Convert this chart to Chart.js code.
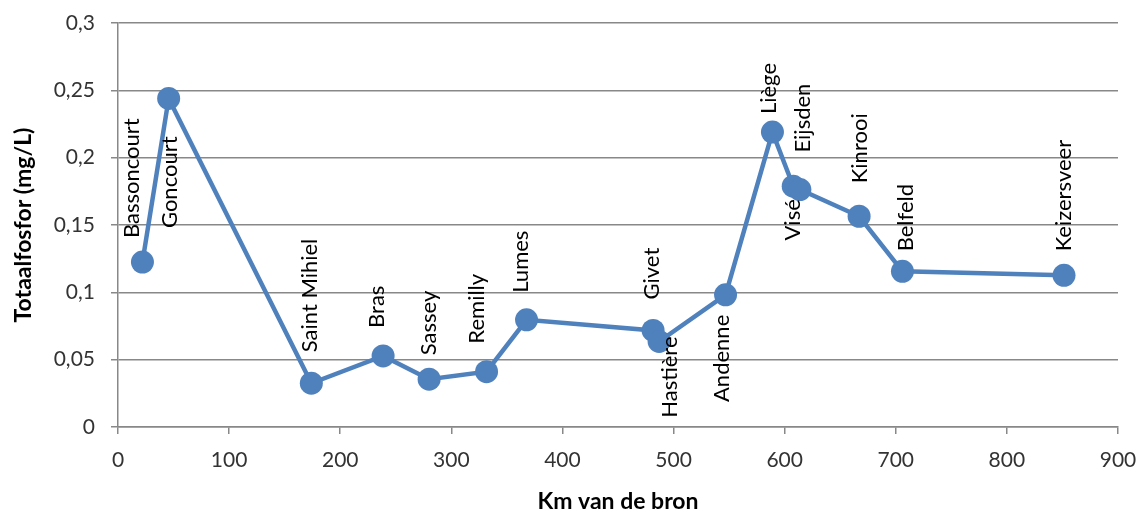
<!DOCTYPE html>
<html lang="nl">
<head>
    <meta charset="UTF-8">
    <title>Totaalfosfor Maas</title>
    <style>
        html, body { margin: 0; padding: 0; background: #fff; }
        #chartContainer { position: relative; width: 1140px; height: 515px; }
    </style>
</head>
<body>
    <div id="chartContainer">
        <canvas id="fosforChart"></canvas>
    </div>

    <script src="https://cdn.jsdelivr.net/npm/chart.js"></script>
    <script>
        // Meetpunten langs de Maas
        const stations = ['Bassoncourt', 'Goncourt', 'Saint Mihiel', 'Bras', 'Sassey', 'Remilly', 'Lumes',
            'Givet', 'Hastière', 'Andenne', 'Liège', 'Visé', 'Eijsden', 'Kinrooi', 'Belfeld', 'Keizersveer'];
        const kmFromSource = [22, 45.6, 174, 238.6, 280, 331.7, 367.7, 481.6, 487, 546.8, 589, 607.7, 613.7, 667, 706, 851.4];
        const totalP = [0.1225, 0.244, 0.0325, 0.0528, 0.0355, 0.0411, 0.0796, 0.0717, 0.0635, 0.0982,
            0.219, 0.1788, 0.1763, 0.1565, 0.1156, 0.1126];

        // label placement: 'up' = above the point, 'down' = below it
        const labelSide = ['up', 'down', 'up', 'up', 'up', 'up', 'up', 'up', 'down', 'down', 'up', 'down', 'up', 'up', 'up', 'up'];
        // fine tuning per label: [dx, gap]
        const labelNudge = {
            'Bassoncourt': [-11, 24], 'Goncourt': [1, 38], 'Saint Mihiel': [-1, 31], 'Bras': [-6, 28],
            'Sassey': [0, 24], 'Remilly': [-10, 28], 'Lumes': [-6, 27], 'Givet': [-1, 31],
            'Hastière': [11, -5], 'Andenne': [-4, 20], 'Liège': [-4, 18], 'Visé': [0, 13],
            'Eijsden': [3, 37], 'Kinrooi': [1, 33], 'Belfeld': [3, 20], 'Keizersveer': [0, 24]
        };

        const blue = '#4F81BD';
        const fontFamily = 'Lato, "Open Sans", sans-serif';

        const points = kmFromSource.map((km, i) => ({ x: km, y: totalP[i] }));

        const pointLabels = {
            id: 'pointLabels',
            afterDatasetsDraw(chart) {
                const ctx = chart.ctx;
                const meta = chart.getDatasetMeta(0);
                ctx.save();
                ctx.font = '22px ' + fontFamily;
                ctx.fillStyle = '#000';
                ctx.textBaseline = 'middle';
                meta.data.forEach((pt, i) => {
                    const name = stations[i];
                    const [dx, gap] = labelNudge[name] || [0, 26];
                    const up = labelSide[i] === 'up';
                    ctx.save();
                    ctx.translate(pt.x + dx, up ? pt.y - gap : pt.y + gap);
                    ctx.rotate(-Math.PI / 2);
                    ctx.textAlign = up ? 'left' : 'right';
                    ctx.fillText(name, 0, 0);
                    ctx.restore();
                });
                ctx.restore();
            }
        };

        // fixed axis boxes so the plot area lands where the original one is
        function fixX(s) {
            s.height = 88;
            s.paddingLeft = 0;
            s.paddingRight = 0;
        }
        function fixY(s) {
            s.width = 118;
            s.paddingTop = 0;
            s.paddingBottom = 0;
        }

        const ctx = document.getElementById('fosforChart').getContext('2d');
        const chart = new Chart(ctx, {
            type: 'line',
            data: {
                datasets: [{
                    label: 'Totaalfosfor',
                    data: points,
                    borderColor: blue,
                    backgroundColor: blue,
                    borderWidth: 4.5,
                    pointRadius: 11.5,
                    pointBorderWidth: 0,
                    pointBackgroundColor: blue,
                    tension: 0,
                    fill: false
                }]
            },
            options: {
                responsive: true,
                maintainAspectRatio: false,
                animation: false,
                layout: { padding: { top: 23, right: 22, left: 0, bottom: 0 } },
                plugins: {
                    legend: { display: false },
                    tooltip: { enabled: false }
                },
                scales: {
                    x: {
                        type: 'linear',
                        min: 0,
                        max: 900,
                        afterFit: fixX,
                        ticks: {
                            stepSize: 100,
                            padding: 14,
                            color: '#333',
                            font: { family: fontFamily, size: 21 }
                        },
                        grid: { drawOnChartArea: false, drawTicks: true, tickLength: 7, color: '#888', lineWidth: 1.5 },
                        border: { color: '#888', width: 1.5 },
                        title: {
                            display: true,
                            text: 'Km van de bron',
                            color: '#000',
                            padding: { top: 0, bottom: 0 },
                            font: { family: fontFamily, size: 23, weight: 'bold' }
                        }
                    },
                    y: {
                        min: 0,
                        max: 0.3,
                        afterFit: fixY,
                        ticks: {
                            stepSize: 0.05,
                            padding: 16,
                            color: '#333',
                            font: { family: fontFamily, size: 21 },
                            callback: v => String(+v.toFixed(2)).replace('.', ',')
                        },
                        grid: { color: '#888', lineWidth: 1.5, tickLength: 7 },
                        border: { color: '#888', width: 1.5 },
                        title: {
                            display: true,
                            text: 'Totaalfosfor (mg/L)',
                            color: '#000',
                            padding: { top: 10, bottom: 0 },
                            font: { family: fontFamily, size: 23, weight: 'bold' }
                        }
                    }
                }
            },
            plugins: [pointLabels]
        });
    </script>
</body>
</html>
